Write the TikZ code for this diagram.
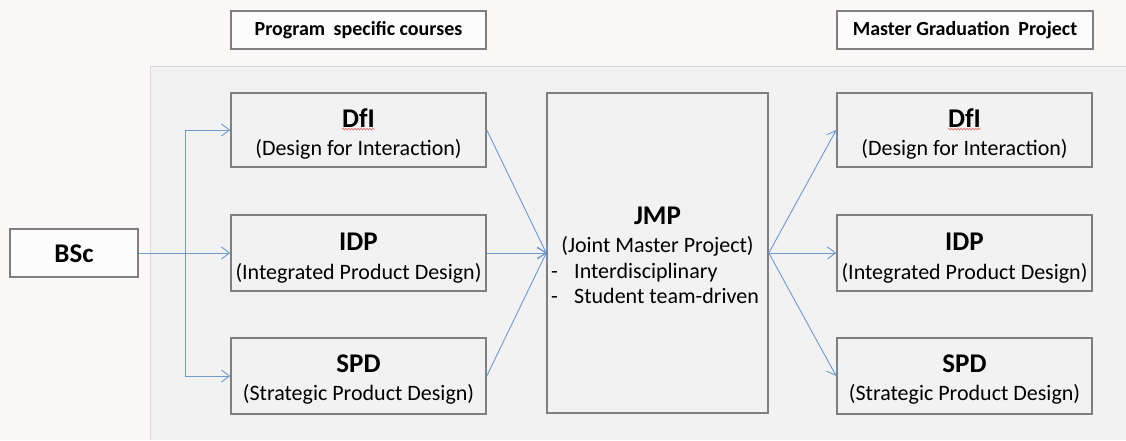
\documentclass[tikz,border=0pt]{standalone}
\usepackage{fontspec}
\setmainfont{Carlito}
\usetikzlibrary{arrows.meta,decorations.pathmorphing}
\definecolor{pagebg}{HTML}{FBF8F7}
\definecolor{panel}{HTML}{F2F2F2}
\definecolor{panelline}{HTML}{D9D9D9}
\definecolor{boxline}{HTML}{7F7F7F}
\definecolor{flow}{HTML}{7099CC}
\definecolor{spell}{HTML}{E05050}
\tikzset{
  box/.style={draw=boxline, line width=1.6pt, fill=panel, inner sep=0pt},
  headbox/.style={box, fill=white!60!pagebg, minimum height=38pt},
  headtxt/.style={font=\fontsize{20}{24}\selectfont\bfseries},
  ttl/.style={font=\fontsize{27}{30}\selectfont\bfseries, inner sep=0pt,
    text height=18pt, text depth=0pt},
  sub/.style={font=\fontsize{22}{26}\selectfont, inner sep=0pt,
    text height=15pt, text depth=5pt},
  flowline/.style={draw=flow, line width=0.9pt},
  flowarrow/.style={flowline, -{Straight Barb[length=8pt,width=12pt,line width=0.9pt]}},
  squiggle/.style={draw=spell, line width=0.5pt, decorate,
    decoration={snake, amplitude=0.8pt, segment length=3pt}}
}
\begin{document}
\begin{tikzpicture}[x=1pt, y=-1pt]
  % page and grey panel
  \fill[pagebg] (0,0) rectangle (1126,440);
  \useasboundingbox (0,0) rectangle (1126,440);
  \fill[panel] (150,66) rectangle (1126,440);
  \draw[panelline, line width=1pt] (150,440) -- (150,66) -- (1126,66);

  % column headings
  \node[headbox, minimum width=255pt, headtxt] (hprog) at (358.5,30) {Program\hspace{0.2em} specific courses};
  \node[headbox, minimum width=256pt, headtxt] (hmgp) at (965,30) {Master Graduation\hspace{0.2em} Project};

  % starting point
  \node[box, fill=white!60!pagebg, minimum width=128pt, minimum height=48pt, ttl] (bsc) at (74,253) {BSc};

  % program specific courses
  \node[box, minimum width=255pt, minimum height=74pt] (dfiL) at (358.5,130) {};
  \node[box, minimum width=255pt, minimum height=76pt] (idpL) at (358.5,253) {};
  \node[box, minimum width=255pt, minimum height=76pt] (spdL) at (358.5,376) {};

  \node[ttl] (dfiLt) at ([yshift=12pt]dfiL.center) {DfI};
  \node[sub] (dfiLs) at ([yshift=-20pt]dfiL.center) {(Design for Interaction)};
  \node[ttl] (idpLt) at ([yshift=12pt]idpL.center) {IDP};
  \node[sub] (idpLs) at ([yshift=-21pt]idpL.center) {(Integrated Product Design)};
  \node[ttl] (spdLt) at ([yshift=13pt]spdL.center) {SPD};
  \node[sub] (spdLs) at ([yshift=-19pt]spdL.center) {(Strategic Product Design)};

  % joint master project
  \node[box, minimum width=221pt, minimum height=320pt] (jmp) at (657.5,253) {};
  \node[ttl] (jmpt) at (657.5,215) {JMP};
  \node[sub] (jmps) at (657.5,247) {(Joint Master Project)};
  \node[sub, anchor=west] (jmpd1) at (551,273) {-};
  \node[sub, anchor=west] (jmpb1) at (574,273) {Interdisciplinary};
  \node[sub, anchor=west] (jmpd2) at (551,298) {-};
  \node[sub, anchor=west] (jmpb2) at (574,298) {Student team-driven};

  % master graduation projects
  \node[box, minimum width=255pt, minimum height=74pt] (dfiR) at (964.5,130) {};
  \node[box, minimum width=255pt, minimum height=76pt] (idpR) at (964.5,253) {};
  \node[box, minimum width=255pt, minimum height=76pt] (spdR) at (964.5,376) {};

  \node[ttl] (dfiRt) at ([yshift=12pt]dfiR.center) {DfI};
  \node[sub] (dfiRs) at ([yshift=-20pt]dfiR.center) {(Design for Interaction)};
  \node[ttl] (idpRt) at ([yshift=12pt]idpR.center) {IDP};
  \node[sub] (idpRs) at ([yshift=-21pt]idpR.center) {(Integrated Product Design)};
  \node[ttl] (spdRt) at ([yshift=13pt]spdR.center) {SPD};
  \node[sub] (spdRs) at ([yshift=-19pt]spdR.center) {(Strategic Product Design)};

  % spell-check underlines
  \draw[squiggle] ([yshift=-2pt]dfiLt.south west) -- ([yshift=-2pt]dfiLt.south east);
  \draw[squiggle] ([yshift=-2pt]dfiRt.south west) -- ([yshift=-2pt]dfiRt.south east);

  % BSc into the three courses
  \coordinate (split) at (185,253);
  \draw[flowarrow] (bsc.east) -- (idpL.west);
  \draw[flowarrow] (split) |- (dfiL.west);
  \draw[flowarrow] (split) |- (spdL.west);

  % courses into the joint project
  \draw[flowarrow] (dfiL.east) -- (jmp.west);
  \draw[flowarrow] (idpL.east) -- (jmp.west);
  \draw[flowarrow] (spdL.east) -- (jmp.west);

  % joint project into the graduation projects
  \draw[flowarrow] (jmp.east) -- (dfiR.west);
  \draw[flowarrow] (jmp.east) -- (idpR.west);
  \draw[flowarrow] (jmp.east) -- (spdR.west);
\end{tikzpicture}
\end{document}
